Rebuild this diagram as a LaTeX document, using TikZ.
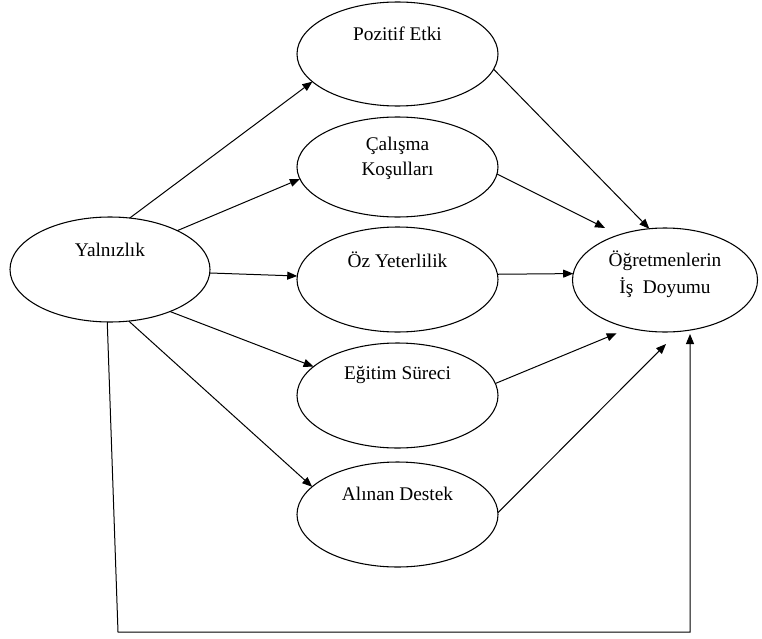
\documentclass[tikz,border=0pt]{standalone}
\usepackage{fontspec}
\setmainfont{Liberation Serif}
\usetikzlibrary{shapes.geometric,arrows.meta,calc}
\begin{document}
\begin{tikzpicture}[x=0.75pt,y=-0.75pt,
  oval/.style={ellipse,draw,line width=0.8pt,inner sep=0pt,outer sep=0pt},
  lbl/.style={font=\fontsize{14.5}{18.75}\selectfont,align=center,inner sep=0pt},
  lbltwo/.style={font=\fontsize{14.5}{20.25}\selectfont,align=center,inner sep=0pt},
  arr/.style={line width=0.75pt,-{Triangle[length=7.5pt,width=6pt]}},
  conn/.style={line width=0.75pt}]
\useasboundingbox (0,0) rectangle (762,638);
% ellipses
\node[oval,minimum width=150pt,minimum height=78.75pt] (yal) at (110,269.5) {};
\node[oval,minimum width=150.75pt,minimum height=78pt] (poz) at (397.5,54) {};
\node[oval,minimum width=150.75pt,minimum height=75pt] (cal) at (397.5,167) {};
\node[oval,minimum width=150.75pt,minimum height=78.75pt] (oz) at (397.5,279.5) {};
\node[oval,minimum width=150.75pt,minimum height=78.75pt] (egt) at (397.5,395.5) {};
\node[oval,minimum width=150.75pt,minimum height=78.75pt] (ali) at (397.5,514.5) {};
\node[oval,minimum width=138.75pt,minimum height=78pt] (ogr) at (665,280) {};
% texts
\node[lbl] (yalt) at (110,250) {Yalnızlık};
\node[lbl] (pozt) at (397.5,34) {Pozitif Etki};
\node[lbl] (calt) at (397.5,158.5) {Çalışma\\Koşulları};
\node[lbl] (ozt) at (397.5,260) {Öz Yeterlilik};
\node[lbl] (egtt) at (397.5,375) {Eğitim Süreci};
\node[lbl] (alit) at (397.5,494) {Alınan Destek};
\node[lbltwo] (ogrt) at (665,274.5) {Öğretmenlerin\\İş\ \ Doyumu};
% connectors from Yalnizlik
\draw[arr] (yal.69.3) -- (poz.198.3);
\draw[arr] (yal.30.2) -- (cal.187.4);
\draw[arr] (yal.-2.2) -- (oz.178.6);
\draw[arr] (yal.-35.1) -- (egt.161.7);
\draw[arr] (yal.-70.1) -- (ali.162.9);
% connectors to Ogretmenlerin
\draw[arr] (poz.-9) -- (ogr.107.9);
\draw[arr] (cal.-4.6) -- ($(ogr.center)+(-60,-52)$);
\draw[arr] (oz.3.7) -- (ogr.176.3);
\draw[arr] (egt.7.2) -- ($(ogr.center)+(-48.3,53.3)$);
\draw[arr] (ali.1.4) -- ($(ogr.center)+(1,64)$);
% bottom path
\coordinate (c1) at (118,632);
\coordinate (c2) at (690,632);
\draw[arr] (yal.-93.3) -- (c1) -- (c2) -- ($(ogr.center)+(25,54)$);
\end{tikzpicture}
\end{document}
